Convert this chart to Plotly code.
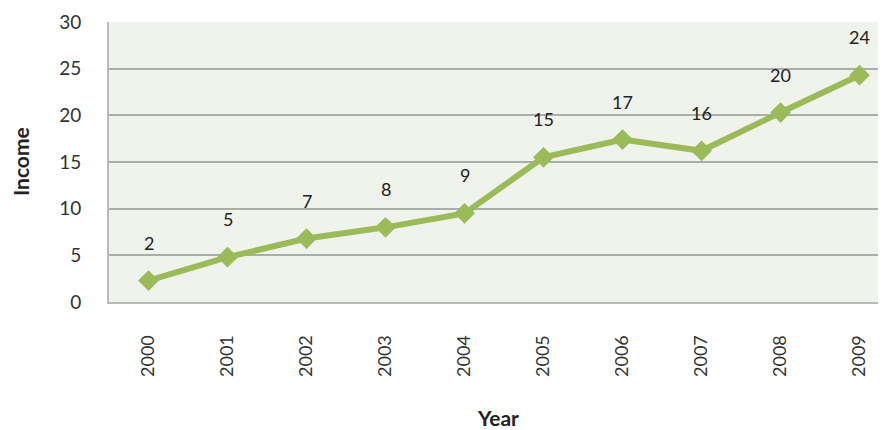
import plotly.graph_objects as go

years = ["2000", "2001", "2002", "2003", "2004", "2005", "2006", "2007", "2008", "2009"]
income = [2.3, 4.8, 6.8, 8.0, 9.5, 15.5, 17.4, 16.2, 20.3, 24.3]
point_labels = ["2", "5", "7", "8", "9", "15", "17", "16", "20", "24"]
y_ticks = [0, 5, 10, 15, 20, 25, 30]

FONT = "Lato"
LINE_GREEN = "#9BBB59"

fig = go.Figure()
fig.add_trace(go.Scatter(
    x=years, y=income, mode="lines+markers",
    line=dict(color=LINE_GREEN, width=6),
    marker=dict(symbol="diamond", size=16, color=LINE_GREEN),
    hoverinfo="x+y", showlegend=False,
))

# data labels: category axis position = index of the year
for i, (val, lab) in enumerate(zip(income, point_labels)):
    fig.add_annotation(x=i, y=val, xref="x", yref="y", text=lab, showarrow=False,
                       yshift=38, yanchor="middle",
                       font=dict(family=FONT, size=18, color="#222222"))

fig.add_annotation(text="<b>Income</b>", xref="paper", yref="paper",
                   x=0, y=0.5, xshift=-89, textangle=-90, showarrow=False,
                   xanchor="center", yanchor="middle",
                   font=dict(family=FONT, size=21, color="#222222"))
fig.add_annotation(text="<b>Year</b>", xref="paper", yref="paper",
                   x=0.5, y=0, yshift=-115, showarrow=False,
                   xanchor="center", yanchor="middle",
                   font=dict(family=FONT, size=21, color="#222222"))

# page body has an 8px margin, so the figure is 8px smaller and shifted
fig.update_layout(
    width=878, height=422,
    margin=dict(l=101, r=0, t=14, b=128),
    paper_bgcolor="white",
    plot_bgcolor="#EFF3EB",
    font=dict(family=FONT, size=18, color="#333333"),
)
fig.update_xaxes(
    type="category", range=[-0.5, 9.335], automargin=False,
    tickangle=-90, ticklabelstandoff=24,
    showgrid=False, showline=True, linecolor="#B8BCB8", linewidth=2,
    ticks="", tickfont=dict(family=FONT, size=18, color="#333333"),
)
fig.update_yaxes(
    range=[0, 30], tickvals=y_ticks, ticklabelstandoff=22, automargin=False,
    showgrid=True, gridcolor="#A9AEA9", gridwidth=2,
    showline=True, linecolor="#B8BCB8", linewidth=2,
    zeroline=False, ticks="",
    tickfont=dict(family=FONT, size=19, color="#333333"),
)

fig.write_html("out.html")
